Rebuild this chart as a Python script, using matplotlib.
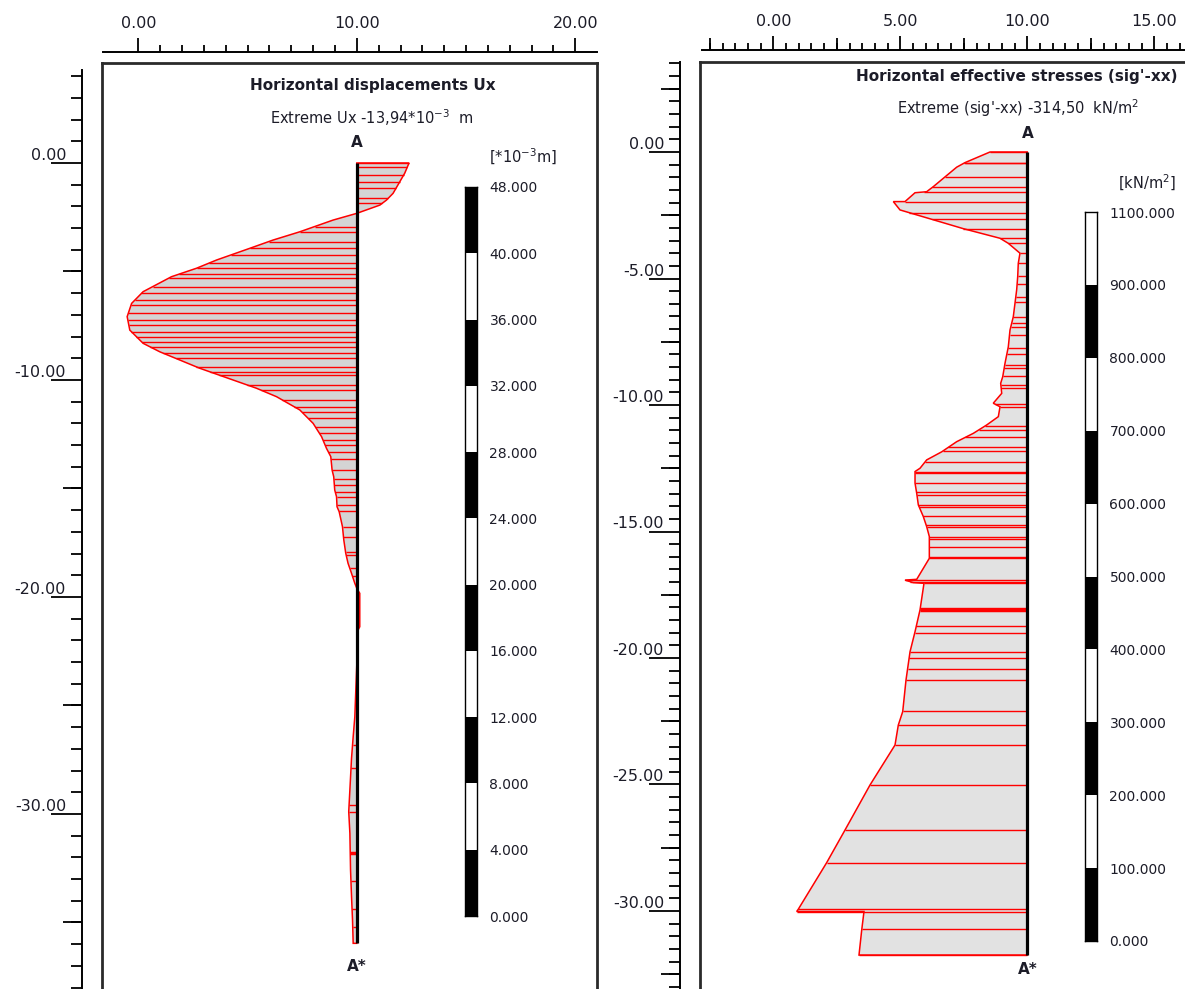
import numpy as np
import matplotlib
matplotlib.use('Agg')
import matplotlib.pyplot as plt
from matplotlib.ticker import MultipleLocator, FixedLocator

plt.rcParams['font.family'] = ['DejaVu Sans']
plt.rcParams['mathtext.default'] = 'regular'

# ---- horizontal displacements Ux [*10^-3 m] along the wall A-A* (level in m)
ux_depth = [0.0, -0.47, -1.40, -1.71, -1.94, -2.32, -2.63, -3.17, -3.55, -3.93,
            -4.47, -4.85, -5.24, -5.93, -6.47, -7.08, -7.70, -8.31, -8.70, -9.46,
            -10.00, -10.38, -10.77, -11.38, -12.00, -12.61, -13.15, -13.53, -14.15, -14.46,
            -15.07, -15.38, -15.84, -16.07, -16.76, -17.37, -17.99, -18.45, -18.91, -19.37,
            -19.60, -19.83, -21.37, -21.52, -24.29, -25.52, -26.44, -27.43, -28.89, -29.89,
            -30.89, -32.58, -33.81, -34.88, -35.96]
ux_value = [3.17, 2.91, 2.20, 1.80, 1.40, 0.00, -1.44, -3.46, -5.08, -6.49,
            -8.51, -9.73, -11.25, -12.97, -13.67, -13.94, -13.78, -12.97, -11.96, -9.53,
            -7.51, -6.09, -4.87, -3.46, -2.65, -2.14, -1.84, -1.58, -1.50, -1.40,
            -1.34, -1.23, -1.20, -1.07, -0.87, -0.79, -0.67, -0.53, -0.32, -0.12,
            0.00, 0.18, 0.18, 0.08, -0.06, -0.12, -0.22, -0.32, -0.42, -0.49,
            -0.42, -0.38, -0.32, -0.26, -0.22]
ux_hatch = [0.0, -0.17, -0.55, -0.86, -1.17, -1.63, -1.86, -2.93, -3.16, -3.62,
            -3.93, -4.24, -4.62, -4.85, -5.12, -5.31, -5.70, -6.01, -6.31, -6.54,
            -6.93, -7.24, -7.47, -7.77, -8.00, -8.24, -8.47, -8.77, -9.00, -9.39,
            -9.62, -9.77, -10.23, -10.46, -10.92, -11.23, -11.46, -11.77, -12.15, -12.46,
            -12.76, -13.00, -13.30, -13.65, -14.15, -14.58, -14.84, -15.15, -15.38, -15.76,
            -16.02, -16.79, -17.22, -17.91, -18.06, -18.68, -19.03, -22.6, -24.88, -26.8,
            -27.9, -29.6, -29.9, -31.8, -33.1, -34.4, -35.2]
ux_thick = [-31.8]
ux_extreme = -13.94

# ---- horizontal effective stresses sig'-xx [kN/m2] along the wall A-A*
sig_depth = [0.00, -0.42, -0.60, -1.37, -1.57, -1.61, -1.96, -1.96, -2.29, -2.66,
             -3.03, -3.41, -3.61, -4.00, -4.40, -4.93, -5.45, -5.98, -6.51, -7.04,
             -7.70, -8.35, -8.88, -9.14, -9.54, -9.93, -10.07, -10.46, -10.79, -11.12,
             -11.45, -11.85, -12.17, -12.50, -12.63, -13.09, -13.49, -13.95, -14.41, -14.81,
             -15.20, -16.06, -16.89, -16.92, -17.02, -17.05, -18.10, -18.96, -19.75, -20.87,
             -22.12, -22.65, -23.44, -25.02, -26.80, -28.09, -29.93, -30.02, -30.02, -30.75,
             -31.74]
sig_value = [-50.9, -85.0, -96.3, -128.2, -137.3, -153.1, -166.8, -182.7, -173.6, -130.4,
             -87.3, -37.2, -25.9, -10.0, -12.3, -13.1, -14.5, -16.8, -19.1, -23.6,
             -25.9, -30.4, -33.5, -36.3, -34.9, -46.4, -37.2, -39.5, -55.4, -73.6,
             -96.3, -116.7, -137.2, -146.3, -153.1, -153.1, -150.8, -148.6, -141.8, -137.2,
             -133.6, -133.6, -150.8, -166.8, -155.5, -140.9, -146.3, -153.1, -159.9, -165.4,
             -169.9, -175.9, -180.4, -214.5, -248.6, -273.6, -312.3, -314.5, -222.7, -225.8,
             -229.5]
sig_hatch = [0.0, -0.42, -0.44, -0.98, -1.40, -1.58, -1.96, -2.40, -2.66, -3.03,
             -3.41, -3.61, -4.00, -4.37, -4.90, -5.22, -5.72, -5.92, -6.51, -6.75,
             -6.90, -7.23, -7.76, -7.98, -8.42, -8.55, -8.85, -9.21, -9.34, -9.96,
             -10.07, -10.83, -10.99, -11.28, -11.67, -11.81, -12.24, -12.64, -12.70, -13.10,
             -13.43, -13.56, -13.95, -14.04, -14.39, -14.74, -14.83, -15.23, -15.31, -15.62,
             -16.00, -16.06, -16.92, -16.98, -17.05, -18.04, -18.10, -18.72, -19.00, -19.75,
             -20.01, -20.45, -20.87, -22.09, -22.65, -23.44, -25.02, -26.80, -28.09, -29.93,
             -30.02, -30.72, -31.74]
sig_thick = [-18.10]
sig_extreme = -314.50

# legends
ux_legend = ['0.000', '4.000', '8.000', '12.000', '16.000', '20.000', '24.000',
             '28.000', '32.000', '36.000', '40.000', '48.000']
sig_legend = ['0.000', '100.000', '200.000', '300.000', '400.000', '500.000',
              '600.000', '700.000', '800.000', '900.000', '1100.000']

# geometry rulers
ux_xticks = [0, 10, 20]
ux_xminor = list(range(0, 22))
ux_yticks = [0, -10, -20, -30]
sig_xticks = [0, 5, 10, 15]
sig_yticks = [0, -5, -10, -15, -20, -25, -30]

WALL_X = 10.0
W, H = 1185, 989
INK = '#1c1c28'
fig = plt.figure(figsize=(W / 100, H / 100), dpi=100)


def box(x0, x1, y0, y1, org, scl):
    # axes on a pixel box, limits chosen so model coords map to given origin/scale
    ax = fig.add_axes([x0 / W, 1 - y1 / H, (x1 - x0) / W, (y1 - y0) / H])
    ax.set_xlim((x0 - org[0]) / scl[0], (x1 - org[0]) / scl[0])
    ax.set_ylim((org[1] - y1) / scl[1], (org[1] - y0) / scl[1])
    ax.patch.set_alpha(0)
    for s in ax.spines.values():
        s.set_visible(False)
    ax.set_xticks([])
    ax.set_yticks([])
    return ax


def top_ruler(x0, x1, y, org, scl, major, minor, mid=None):
    ax = box(x0, x1, y, y + 8, org, scl)
    ax.spines['top'].set_visible(True)
    ax.spines['top'].set_linewidth(1.4)
    ax.xaxis.tick_top()
    ax.set_xticks(major, ['%.2f' % v for v in major])
    if isinstance(minor, list):
        ax.xaxis.set_minor_locator(FixedLocator(minor))
    else:
        ax.xaxis.set_minor_locator(MultipleLocator(minor))
    ax.tick_params(axis='x', which='major', length=10, width=1.3, pad=5,
                   labelsize=11.5, labelcolor=INK)
    ax.tick_params(axis='x', which='minor', length=5.2, width=1.3)
    if mid:
        ax2 = box(x0, x1, y, y + 8, org, scl)
        ax2.xaxis.tick_top()
        ax2.set_xticks(mid, [''] * len(mid))
        ax2.tick_params(axis='x', length=9, width=1.3)


def side_ruler(x, y0, y1, org, scl, major, step, mid):
    ax = box(x, x + 8, y0, y1, org, scl)
    ax.spines['left'].set_visible(True)
    ax.spines['left'].set_linewidth(1.4)
    ax.set_yticks(major, ['%.2f' % v for v in major])
    ax.yaxis.set_minor_locator(MultipleLocator(step))
    ax.tick_params(axis='y', which='major', length=22, width=1.3, pad=-10.5,
                   labelsize=11.5, labelcolor=INK)
    ax.tick_params(axis='y', which='minor', length=8, width=1.3)
    plt.setp(ax.get_yticklabels(), va='bottom')
    ax2 = box(x, x + 8, y0, y1, org, scl)
    ax2.set_yticks(mid, [''] * len(mid))
    ax2.tick_params(axis='y', length=13.5, width=1.3)


def profile(ax, depth, value, scale, hatch, thick, fill):
    d = np.array(depth)
    v = np.array(value)
    xs = WALL_X + v * scale
    ax.fill(np.r_[WALL_X, xs, WALL_X], np.r_[d[0], d, d[-1]],
            facecolor=fill, edgecolor='red', lw=1.1)
    hv = np.interp(hatch, d[::-1], v[::-1])
    ax.hlines(hatch, WALL_X, WALL_X + hv * scale, color='red', lw=1.0)
    tv = np.interp(thick, d[::-1], v[::-1])
    ax.hlines(thick, WALL_X, WALL_X + tv * scale, color='red', lw=2.5)
    ax.plot([WALL_X, WALL_X], [d[0], d[-1]], color='black', lw=2.3,
            solid_capstyle='butt')
    return d


def legend_bar(x0, y0, y1, labels, n):
    ax = fig.add_axes([x0 / W, 1 - y1 / H, 12 / W, (y1 - y0) / H])
    colors = ['black' if i % 2 == 0 else 'white' for i in range(n)]
    ax.bar(np.zeros(n), np.ones(n), width=1, bottom=np.arange(n), color=colors,
           align='edge', edgecolor='none')
    ax.set_xlim(0, 1)
    ax.set_ylim(0, n)
    ax.set_xticks([])
    ax.yaxis.tick_right()
    ax.set_yticks(np.arange(len(labels)), labels)
    ax.tick_params(axis='y', length=0, pad=9, labelsize=10, labelcolor=INK)
    for s in ax.spines.values():
        s.set_linewidth(1)
        s.set_color('black')


def ptext(x, y, s, **kw):
    fig.text(x / W, 1 - y / H, s, ha='center', va='center', color=INK, **kw)


# ---------------- left: horizontal displacements ----------------
org_l, scl_l = (138.3, 163.0), (21.85, 21.7)
axl = box(102, 597, 63, 1010, org_l, scl_l)
for s in ['left', 'top', 'right']:
    axl.spines[s].set_visible(True)
    axl.spines[s].set_linewidth(2)
    axl.spines[s].set_color('#2a2a2a')
ux_scale = 10.51 / abs(ux_extreme)
d = profile(axl, ux_depth, ux_value, ux_scale, ux_hatch, ux_thick, '#d4d4d4')
axl.annotate('A', (WALL_X, d[0]), xytext=(0, 14.5), textcoords='offset points',
             ha='center', va='center', fontsize=11, fontweight='bold', color=INK)
axl.annotate('A*', (WALL_X, d[-1]), xytext=(0, -17), textcoords='offset points',
             ha='center', va='center', fontsize=11, fontweight='bold', color=INK)
top_ruler(103, 597, 52, org_l, scl_l, ux_xticks, ux_xminor)
side_ruler(82, 70, 1010, org_l, scl_l, ux_yticks, 1, [-5, -15, -25, -35])

ptext(373, 86, 'Horizontal displacements Ux', fontsize=11, fontweight='bold')
ptext(372, 118, 'Extreme Ux %s*10$^{-3}$  m' % ('%.2f' % ux_extreme).replace('.', ','),
      fontsize=10.5)
ptext(523, 157, '[*10$^{-3}$m]', fontsize=10.5)
legend_bar(465, 187, 916, ux_legend, len(ux_legend) - 1)

# ---------------- right: horizontal effective stresses ----------------
org_r, scl_r = (773.3, 152.0), (25.4, 25.3)
axr = box(700, 1200, 62, 1010, org_r, scl_r)
for s in ['left', 'top']:
    axr.spines[s].set_visible(True)
    axr.spines[s].set_linewidth(2)
    axr.spines[s].set_color('#2a2a2a')
sig_scale = 9.08 / abs(sig_extreme)
d = profile(axr, sig_depth, sig_value, sig_scale, sig_hatch, sig_thick, '#e2e2e2')
axr.annotate('A', (WALL_X, d[0]), xytext=(0, 13.5), textcoords='offset points',
             ha='center', va='center', fontsize=11, fontweight='bold', color=INK)
axr.annotate('A*', (WALL_X, d[-1]), xytext=(0, -10.5), textcoords='offset points',
             ha='center', va='center', fontsize=11, fontweight='bold', color=INK)
top_ruler(702, 1185, 50, org_r, scl_r, sig_xticks, 0.5, [-2.5, 2.5, 7.5, 12.5])
side_ruler(680, 62, 1010, org_r, scl_r, sig_yticks, 0.5,
           [2.5, -2.5, -7.5, -12.5, -17.5, -22.5, -27.5, -32.5])

ptext(1017, 76, "Horizontal effective stresses (sig'-xx)", fontsize=11, fontweight='bold')
ptext(1018, 108, "Extreme (sig'-xx) %s  kN/m$^2$" % ('%.2f' % sig_extreme).replace('.', ','),
      fontsize=10.5)
ptext(1147, 183, '[kN/m$^2$]', fontsize=10.5)
legend_bar(1085, 212, 941, sig_legend, len(sig_legend) - 1)

fig.savefig('out.png', dpi=100, facecolor='white')
